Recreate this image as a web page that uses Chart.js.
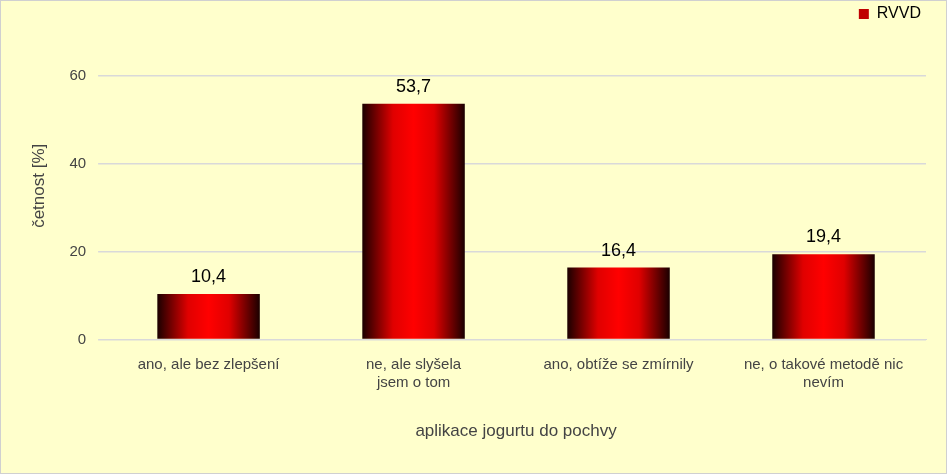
<!DOCTYPE html>
<html>
<head>
<meta charset="utf-8">
<script src="https://cdn.jsdelivr.net/npm/chart.js@4"></script>
<style>
    html, body { margin: 0; padding: 0; background: #fff; }
    #wrap { width: 945px; height: 472px; border: 1px solid #d0d0d0; background: #ffffcc; }
</style>
</head>
<body>
<div id="wrap"><canvas id="chart" width="945" height="472"></canvas></div>
<script>
const categories = [
    'ano, ale bez zlepšení',
    ['ne, ale slyšela', 'jsem o tom'],
    'ano, obtíže se zmírnily',
    ['ne, o takové metodě nic', 'nevím'],
];
const rvvd = [10.4, 53.7, 16.4, 19.4];
const yTicks = [0, 20, 40, 60];

const FONT = 'Liberation Sans, Arial, sans-serif';

function barGradient(ctx) {
    const chart = ctx.chart;
    const x = chart.scales.x;
    if (!x || ctx.dataIndex === undefined) return '#ff0000';
    const cx = x.getPixelForValue(ctx.dataIndex);
    const half = x.width / categories.length * 0.25;
    const g = chart.ctx.createLinearGradient(cx - half, 0, cx + half, 0);
    g.addColorStop(0, '#1a0000');
    g.addColorStop(0.3, '#e00000');
    g.addColorStop(0.5, '#ff0000');
    g.addColorStop(0.7, '#e00000');
    g.addColorStop(1, '#1a0000');
    return g;
}

const valueLabels = {
    id: 'valueLabels',
    afterDatasetsDraw(chart) {
        const c = chart.ctx;
        c.save();
        c.font = '18px ' + FONT;
        c.fillStyle = '#000';
        c.textAlign = 'center';
        c.textBaseline = 'bottom';
        chart.getDatasetMeta(0).data.forEach((bar, i) => {
            c.fillText(rvvd[i].toFixed(1).replace('.', ','), bar.x, bar.y - 8);
        });
        c.restore();
    },
};

new Chart(document.getElementById('chart'), {
    type: 'bar',
    data: {
        labels: categories,
        datasets: [{
            label: 'RVVD',
            data: rvvd,
            backgroundColor: barGradient,
            categoryPercentage: 0.5,
            barPercentage: 1,
        }],
    },
    options: {
        responsive: false,
        animation: false,
        layout: { padding: { top: 0, right: 20, bottom: 27, left: 24 } },
        plugins: {
            legend: {
                position: 'top',
                align: 'end',
                labels: {
                    boxWidth: 10, boxHeight: 10, padding: 5,
                    color: '#222', font: { size: 16, family: FONT },
                    generateLabels: () => [{ text: 'RVVD', fillStyle: '#c00000', strokeStyle: '#c00000', lineWidth: 0 }],
                },
            },
            tooltip: { enabled: false },
        },
        scales: {
            x: {
                grid: { display: false },
                border: { color: '#d9d9d9' },
                ticks: { color: '#444', font: { size: 15, family: FONT }, maxRotation: 0, padding: 8 },
                title: { display: true, text: 'aplikace jogurtu do pochvy', color: '#444', font: { size: 17, family: FONT }, padding: { top: 22 } },
            },
            y: {
                min: 0,
                max: 70,
                afterBuildTicks: (axis) => { axis.ticks = yTicks.map((v) => ({ value: v })); },
                grid: { color: '#d9d9d9', lineWidth: 1.5 },
                border: { display: false },
                ticks: { color: '#444', font: { size: 15, family: FONT }, padding: 12 },
                title: { display: true, text: 'četnost [%]', color: '#444', font: { size: 17, family: FONT }, padding: { bottom: 8 } },
            },
        },
    },
    plugins: [valueLabels],
});
</script>
</body>
</html>
